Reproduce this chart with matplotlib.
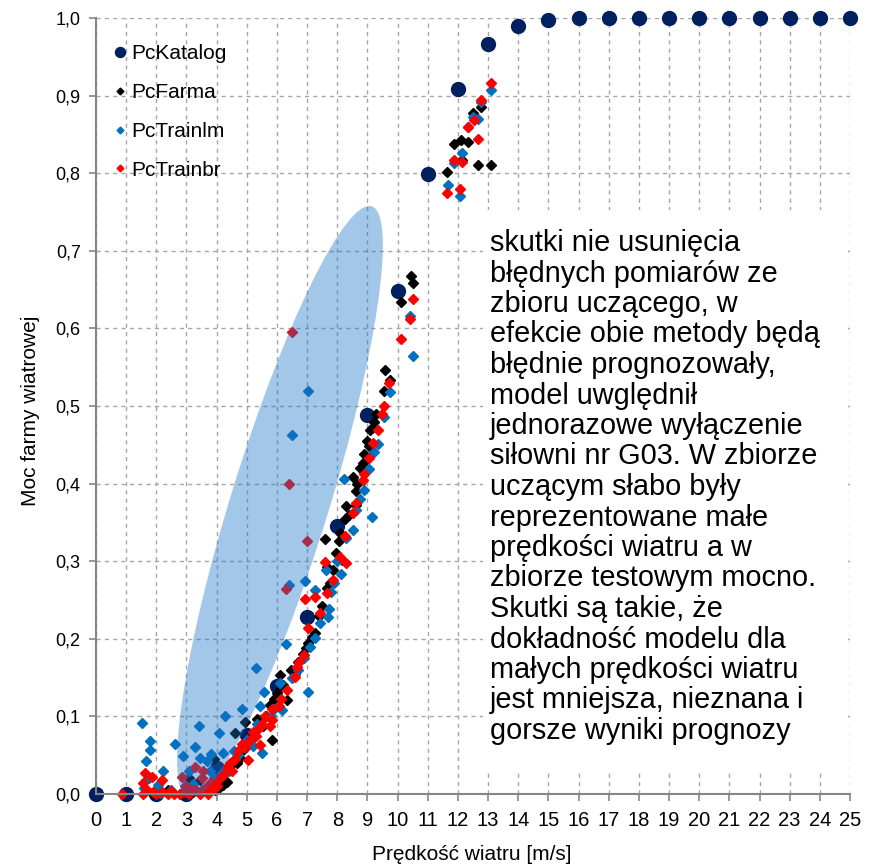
import matplotlib
matplotlib.use('Agg')
import matplotlib.pyplot as plt
from matplotlib.patches import Ellipse, Rectangle
from matplotlib.transforms import ScaledTranslation
from matplotlib.ticker import FuncFormatter, MultipleLocator

plt.rcParams['font.family'] = ['Liberation Sans', 'DejaVu Sans']

# ---------------- data ----------------
katalog_x = list(range(26))
katalog_y = [0.0, 0.0, 0.0, 0.0, 0.033, 0.076, 0.139, 0.228, 0.345, 0.488,
             0.648, 0.799, 0.908, 0.966, 0.990, 0.997, 1.0, 1.0, 1.0, 1.0,
             1.0, 1.0, 1.0, 1.0, 1.0, 1.0]

farma_x = [1.90, 2.39, 2.80, 3.10, 3.20, 3.45, 3.61, 3.75, 3.90, 3.95,
           4.11, 4.21, 4.33, 4.33, 4.45, 4.55, 4.66, 4.77, 4.85, 4.61,
           4.94, 5.00, 5.10, 5.20, 5.33, 5.44, 5.49, 5.55, 5.65, 5.77,
           5.83, 5.90, 6.00, 6.10, 6.20, 6.32, 6.45, 6.60, 6.70, 6.85,
           6.96, 7.04, 7.15, 7.26, 7.40, 7.50, 7.60, 7.65, 7.67, 7.75,
           7.85, 7.95, 8.07, 8.09, 8.17, 8.26, 8.29, 8.40, 8.53, 8.61,
           8.62, 8.64, 8.75, 8.86, 8.89, 9.00, 9.05, 9.08, 9.15, 9.22,
           9.30, 9.55, 9.57, 9.74, 10.11, 10.43, 10.50, 11.63, 11.87, 12.09,
           12.12, 12.33, 12.51, 12.66, 12.78, 13.10]
farma_y = [0.000, 0.005, 0.000, 0.020, 0.003, 0.018, 0.005, 0.012, 0.045, 0.005,
           0.009, 0.012, 0.016, 0.031, 0.036, 0.042, 0.040, 0.047, 0.055, 0.078,
           0.093, 0.062, 0.068, 0.075, 0.097, 0.095, 0.089, 0.088, 0.100, 0.115,
           0.069, 0.122, 0.130, 0.153, 0.140, 0.121, 0.160, 0.155, 0.170, 0.180,
           0.188, 0.195, 0.202, 0.208, 0.230, 0.242, 0.329, 0.265, 0.293, 0.272,
           0.289, 0.310, 0.326, 0.336, 0.302, 0.354, 0.371, 0.360, 0.409, 0.391,
           0.373, 0.400, 0.420, 0.426, 0.438, 0.455, 0.448, 0.469, 0.472, 0.480,
           0.490, 0.519, 0.546, 0.534, 0.634, 0.667, 0.658, 0.801, 0.837, 0.843,
           0.817, 0.840, 0.878, 0.810, 0.885, 0.810]

trainlm_x = [1.51, 1.66, 1.79, 1.79, 1.60, 1.75, 1.95, 2.05, 2.12, 2.23,
             2.50, 2.62, 2.87, 2.95, 3.10, 3.23, 3.28, 3.43, 3.45, 3.50,
             3.67, 3.78, 3.81, 3.90, 4.09, 4.17, 4.21, 4.28, 4.40, 4.58,
             4.70, 4.83, 4.90, 5.00, 5.20, 5.29, 5.33, 5.44, 5.49, 5.57,
             5.79, 5.90, 6.10, 6.16, 6.29, 6.40, 6.49, 6.50, 6.70, 6.90,
             6.93, 7.02, 7.04, 7.10, 7.26, 7.26, 7.43, 7.61, 7.70, 7.71,
             7.80, 7.90, 8.00, 8.11, 8.22, 8.30, 8.53, 8.62, 8.75, 8.89,
             9.06, 9.14, 9.23, 9.36, 9.56, 9.75, 10.41, 10.50, 11.66, 11.87,
             12.08, 12.12, 12.33, 12.51, 12.68, 12.77, 13.10]
trainlm_y = [0.092, 0.042, 0.068, 0.057, 0.008, 0.020, 0.002, 0.012, 0.001, 0.030,
             0.005, 0.064, 0.049, 0.010, 0.030, 0.013, 0.061, 0.087, 0.047, 0.005,
             0.042, 0.029, 0.052, 0.020, 0.078, 0.027, 0.053, 0.100, 0.030, 0.056,
             0.050, 0.110, 0.060, 0.070, 0.062, 0.162, 0.090, 0.113, 0.053, 0.131,
             0.101, 0.110, 0.143, 0.108, 0.193, 0.269, 0.462, 0.150, 0.160, 0.175,
             0.274, 0.519, 0.131, 0.190, 0.201, 0.263, 0.220, 0.289, 0.228, 0.239,
             0.260, 0.272, 0.300, 0.284, 0.406, 0.330, 0.340, 0.366, 0.380, 0.392,
             0.419, 0.357, 0.441, 0.451, 0.486, 0.518, 0.616, 0.564, 0.785, 0.813,
             0.771, 0.826, 0.859, 0.873, 0.870, 0.892, 0.907]

trainbr_x = [0.85, 1.55, 1.57, 1.62, 1.70, 1.85, 1.90, 2.00, 2.18, 2.20,
             2.40, 2.50, 2.60, 2.80, 2.84, 2.95, 3.00, 3.10, 3.23, 3.28,
             3.30, 3.45, 3.50, 3.56, 3.60, 3.70, 3.80, 3.90, 4.00, 4.10,
             4.20, 4.35, 4.45, 4.50, 4.60, 4.70, 4.83, 4.95, 5.05, 5.10,
             5.20, 5.30, 5.44, 5.40, 5.50, 5.60, 5.77, 5.83, 5.85, 6.08,
             6.13, 6.29, 6.32, 6.40, 6.49, 6.60, 6.65, 6.74, 6.90, 6.93,
             7.01, 7.04, 7.26, 7.43, 7.60, 7.67, 7.85, 8.09, 8.26, 8.29,
             8.51, 8.62, 8.86, 8.89, 9.05, 9.17, 9.34, 9.47, 9.56, 9.72,
             10.10, 10.41, 10.50, 11.65, 11.87, 12.08, 12.14, 12.33, 12.53, 12.66,
             12.78, 13.11]
trainbr_y = [0.000, 0.000, 0.014, 0.027, 0.005, 0.022, 0.002, 0.000, 0.018, 0.003,
             0.000, 0.004, 0.000, 0.000, 0.022, 0.002, 0.010, 0.000, 0.005, 0.035,
             0.005, 0.000, 0.020, 0.030, 0.008, 0.000, 0.015, 0.006, 0.010, 0.020,
             0.025, 0.035, 0.040, 0.030, 0.045, 0.055, 0.065, 0.060, 0.044, 0.070,
             0.080, 0.075, 0.063, 0.085, 0.090, 0.100, 0.087, 0.095, 0.110, 0.113,
             0.123, 0.264, 0.134, 0.399, 0.595, 0.151, 0.164, 0.170, 0.179, 0.251,
             0.326, 0.214, 0.254, 0.233, 0.299, 0.259, 0.276, 0.306, 0.332, 0.298,
             0.362, 0.375, 0.405, 0.413, 0.433, 0.452, 0.469, 0.490, 0.500, 0.529,
             0.586, 0.612, 0.638, 0.775, 0.817, 0.780, 0.814, 0.859, 0.869, 0.844,
             0.894, 0.916]

series_labels = ['PcKatalog', 'PcFarma', 'PcTrainlm', 'PcTrainbr']
x_label = 'Prędkość wiatru [m/s]'
y_label = 'Moc farmy wiatrowej'
note_lines = [
    'skutki nie usunięcia',
    'błędnych pomiarów ze',
    'zbioru uczącego, w',
    'efekcie obie metody będą',
    'błędnie prognozowały,',
    'model uwględnił',
    'jednorazowe wyłączenie',
    'siłowni nr G03. W zbiorze',
    'uczącym słabo były',
    'reprezentowane małe',
    'prędkości wiatru a w',
    'zbiorze testowym mocno.',
    'Skutki są takie, że',
    'dokładność modelu dla',
    'małych prędkości wiatru',
    'jest mniejsza, nieznana i',
    'gorsze wyniki prognozy',
]

# ---------------- figure ----------------
W, H = 870, 866
fig = plt.figure(figsize=(W / 100, H / 100), dpi=100)
ax = fig.add_axes([96 / W, 72 / H, 754 / W, 776 / H])
ax.set_xlim(0, 25)
ax.set_ylim(0, 1.0)
ax.set_axisbelow(True)

grid_c = '#A6A6A6'
ax.grid(True, color=grid_c, linestyle=(0, (3, 3)), linewidth=1.0)
ax.xaxis.set_major_locator(MultipleLocator(1))
ax.yaxis.set_major_locator(MultipleLocator(0.1))
ax.yaxis.set_major_formatter(FuncFormatter(lambda v, p: f'{v:.1f}'.replace('.', ',')))

for s in ['top', 'right']:
    ax.spines[s].set_visible(False)
for s in ['left', 'bottom']:
    ax.spines[s].set_color('#868686')
    ax.spines[s].set_linewidth(1.5)
ax.tick_params(axis='both', direction='out', length=5, width=1.2, color='#868686')
ax.tick_params(axis='x', labelsize=14.5, pad=7)
ax.tick_params(axis='y', labelsize=13, pad=6)

# white box behind the note (hides the grid there)
ax.add_patch(Rectangle((12.83, 0.031), 12.1, 0.722, facecolor='white',
                       edgecolor='none', zorder=1))

navy = '#002060'
ax.plot(katalog_x, katalog_y, 'o', color=navy, markersize=10, linestyle='none',
        clip_on=False, zorder=2, label=series_labels[0])
ax.plot(farma_x, farma_y, 'D', color='black', markersize=4.8, linestyle='none',
        clip_on=False, zorder=2, label=series_labels[1])
ax.plot(trainlm_x, trainlm_y, 'D', color='#0070C0', markersize=4.8, linestyle='none',
        clip_on=False, zorder=2, label=series_labels[2])
ax.plot(trainbr_x, trainbr_y, 'D', color='#FF0000', markersize=4.8, linestyle='none',
        clip_on=False, zorder=2, label=series_labels[3])

# highlighted ellipse (size in inches, centre in data units)
ell = Ellipse((0, 0), width=6.2, height=0.98, angle=72.8,
              facecolor='#1B74C6', alpha=0.40, edgecolor='none', zorder=3,
              transform=fig.dpi_scale_trans + ScaledTranslation(6.1, 0.3757, ax.transData))
ax.add_patch(ell)

leg = ax.legend(loc='upper left', bbox_to_anchor=(0.0235, 0.966), frameon=False,
                fontsize=15, labelspacing=0.95, handlelength=0.6,
                handletextpad=0.25, borderaxespad=0, borderpad=0, markerscale=0.72,
                numpoints=1)

ax.set_xlabel(x_label, fontsize=15)
ax.set_ylabel(y_label, fontsize=15)
ax.xaxis.set_label_coords((472 - 96) / 754, (794 - 855) / 776)
ax.xaxis.label.set_va('center')
ax.yaxis.set_label_coords((31 - 96) / 754, (794 - 411) / 776)
ax.yaxis.label.set_va('center')

for i, line in enumerate(note_lines):
    fig.text(490 / W, 1 - (251 + i * 30.5) / H, line, fontsize=20.8,
             ha='left', va='baseline', color='black')

fig.savefig('out.png', dpi=100)
